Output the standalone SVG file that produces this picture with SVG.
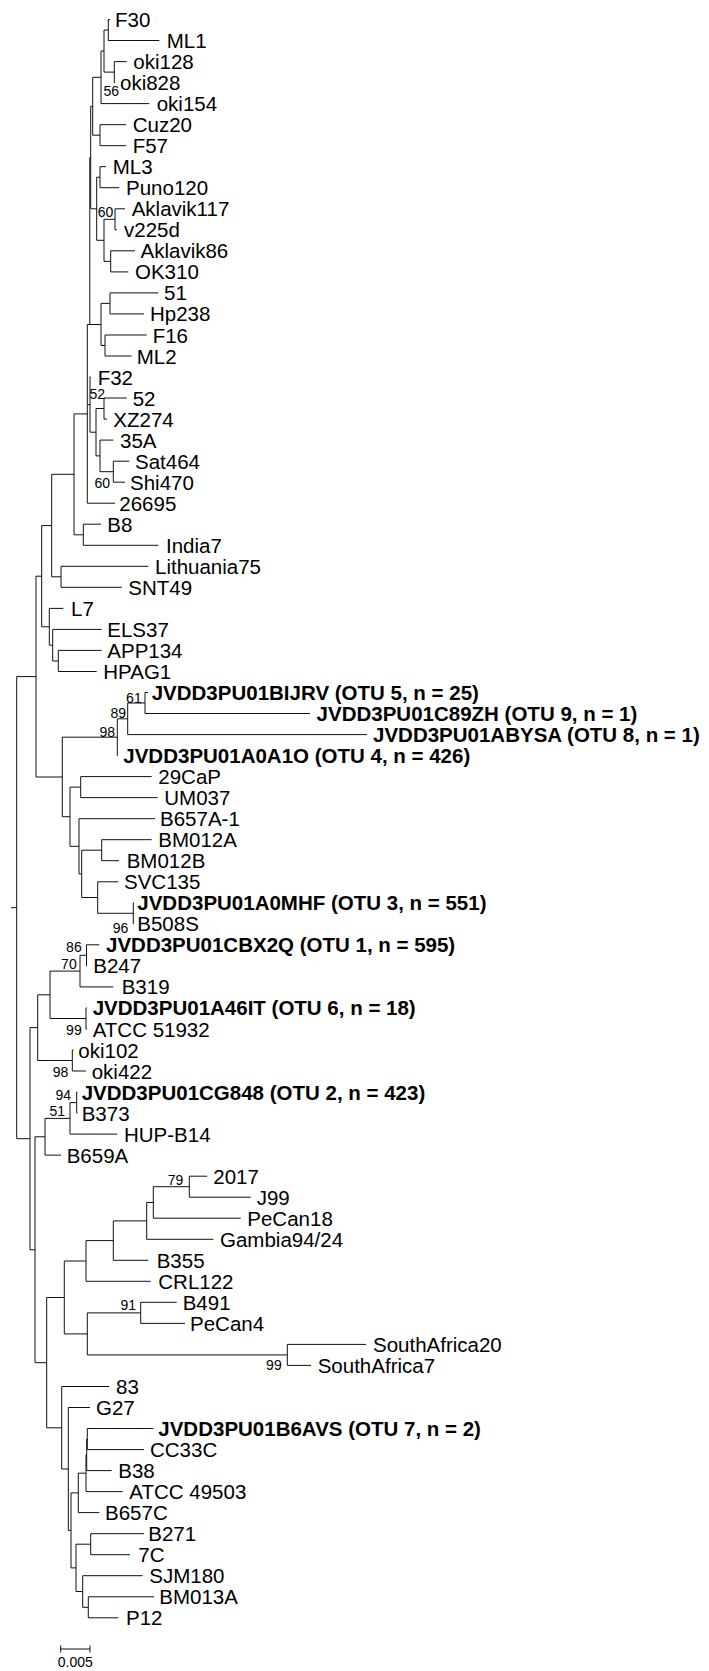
<svg xmlns="http://www.w3.org/2000/svg" width="709" height="1671" viewBox="0 0 709 1671">
<style>
text{font-family:"Liberation Sans",Arial,sans-serif;fill:#000}
.l{font-size:20.5px}
.b{font-size:20.5px;font-weight:bold}
.s{font-size:14px;text-anchor:end}
.br{fill:none;stroke:#111;stroke-width:1}
</style>
<rect width="709" height="1671" fill="#fff"/>
<g id="connectors" class="br">
<path d="M108.3 19.5V40.5M108.3 19.5H110M108.3 40.5H159.3"/>
<path d="M114.3 61.6V82.6M114.3 61.6H126.7M114.3 82.6H115"/>
<path d="M104 30V72.1M104 30H108.3M104 72.1H114.3"/>
<path d="M101 51V103.6M101 51H104M101 103.6H149.3"/>
<path d="M100 124.7V145.7M100 124.7H126M100 145.7H126"/>
<path d="M92.7 77.3V135.2M92.7 77.3H101M92.7 135.2H100"/>
<path d="M100 166.7V187.7M100 166.7H106M100 187.7H119.3"/>
<path d="M115 208.8V229.8M115 208.8H125M115 229.8H117"/>
<path d="M110.7 250.8V271.9M110.7 250.8H135M110.7 271.9H128.3"/>
<path d="M104 219.3V261.4M104 219.3H115M104 261.4H110.7"/>
<path d="M96.7 177.2V240.3M96.7 177.2H100M96.7 240.3H104"/>
<path d="M110 292.9V313.9M110 292.9H158.3M110 313.9H144"/>
<path d="M105 335V356M105 335H146.7M105 356H131.7"/>
<path d="M101 303.4V345.5M101 303.4H110M101 345.5H105"/>
<path d="M90.7 106.3V208.8M90.7 106.3H92.7M90.7 208.8H96.7"/>
<path d="M89.8 157.5V324.5M89.8 157.5H90.7"/>
<path d="M104 398V419.1M104 398H126.7M104 419.1H107"/>
<path d="M113.3 461.2V482.2M113.3 461.2H129.3M113.3 482.2H125"/>
<path d="M100 440.1V471.7M100 440.1H113.3M100 471.7H113.3"/>
<path d="M96 408.5V455.9M96 408.5H104M96 455.9H100"/>
<path d="M90 377V432.2M90 377H91M90 432.2H96"/>
<path d="M87.3 324.5V503.2M87.3 324.5H101M87.3 404.6H90M87.3 503.2H115"/>
<path d="M83.3 524.2V545.3M83.3 524.2H101M83.3 545.3H158.3"/>
<path d="M74 413.9V534.8M74 413.9H87.3M74 534.8H83.3"/>
<path d="M61 566.3V587.3M61 566.3H148.3M61 587.3H121.7"/>
<path d="M51.7 474.3V576.8M51.7 474.3H74M51.7 576.8H61"/>
<path d="M58.3 650.4V671.5M58.3 650.4H101.7M58.3 671.5H96.7"/>
<path d="M52.7 629.4V661M52.7 629.4H101.7M52.7 661H58.3"/>
<path d="M49.3 608.4V645.2M49.3 608.4H63.3M49.3 645.2H52.7"/>
<path d="M41.7 525.6V626.8M41.7 525.6H51.7M41.7 626.8H49.3"/>
<path d="M145 692.5V713.5M145 692.5H148M145 713.5H310"/>
<path d="M127.7 703V734.6M127.7 703H145M127.7 734.6H367"/>
<path d="M117.3 718.8V755.6M117.3 718.8H127.7M117.3 755.6H118"/>
<path d="M80.7 776.6V797.6M80.7 776.6H151.7M80.7 797.6H157.7"/>
<path d="M101.7 839.7V860.7M101.7 839.7H151.7M101.7 860.7H119"/>
<path d="M133.3 902.8V923.8M133.3 902.8H134M133.3 923.8H134"/>
<path d="M97.7 881.8V913.3M97.7 881.8H118.3M97.7 913.3H133.3"/>
<path d="M81.7 850.2V897.5M81.7 850.2H101.7M81.7 897.5H97.7"/>
<path d="M79 818.7V873.9M79 818.7H155M79 873.9H81.7"/>
<path d="M70 787.1V846.3M70 787.1H80.7M70 846.3H79"/>
<path d="M62.3 737.2V816.7M62.3 737.2H117.3M62.3 816.7H70"/>
<path d="M36 576.2V777M36 576.2H41.7M36 777H62.3"/>
<path d="M86.5 944.8V965.9M86.5 944.8H99.3M86.5 965.9H87"/>
<path d="M80 955.3V986.9M80 955.3H86.5M80 986.9H113.3"/>
<path d="M86 1007.9V1029M86 1007.9H87M86 1029H87"/>
<path d="M50 971.1V1018.5M50 971.1H80M50 1018.5H86"/>
<path d="M72.3 1050V1071M72.3 1050H73.5M72.3 1071H86"/>
<path d="M37.7 994.8V1060.5M37.7 994.8H50M37.7 1060.5H72.3"/>
<path d="M76.7 1092.1V1113.1M76.7 1092.1H77.5M76.7 1113.1H77.5"/>
<path d="M70 1102.6V1134.1M70 1102.6H76.7M70 1134.1H117.3"/>
<path d="M45 1118.4V1155.1M45 1118.4H70M45 1155.1H61"/>
<path d="M189.3 1176.2V1197.2M189.3 1176.2H207.3M189.3 1197.2H250.7"/>
<path d="M153.3 1186.7V1218.2M153.3 1186.7H189.3M153.3 1218.2H240.7"/>
<path d="M146.7 1202.5V1239.3M146.7 1202.5H153.3M146.7 1239.3H213.3"/>
<path d="M113.3 1220.9V1260.3M113.3 1220.9H146.7M113.3 1260.3H148.3"/>
<path d="M86 1240.6V1281.3M86 1240.6H113.3M86 1281.3H150.7"/>
<path d="M140.7 1302.3V1323.4M140.7 1302.3H176.7M140.7 1323.4H185"/>
<path d="M287.3 1344.4V1365.4M287.3 1344.4H366M287.3 1365.4H311"/>
<path d="M87.3 1312.9V1354.9M87.3 1312.9H140.7M87.3 1354.9H287.3"/>
<path d="M64.3 1261V1333.9M64.3 1261H86M64.3 1333.9H87.3"/>
<path d="M87.3 1428.5V1449.6M87.3 1428.5H153.3M87.3 1449.6H144"/>
<path d="M86.7 1439V1470.6M86.7 1439H87.3M86.7 1470.6H111.7"/>
<path d="M86 1454.8V1491.6M86 1454.8H86.7M86 1491.6H122.7"/>
<path d="M78.3 1473.2V1512.6M78.3 1473.2H86M78.3 1512.6H99.3"/>
<path d="M90.7 1533.7V1554.7M90.7 1533.7H144M90.7 1554.7H130"/>
<path d="M88.3 1596.8V1617.8M88.3 1596.8H154M88.3 1617.8H118.3"/>
<path d="M82.7 1575.7V1607.3M82.7 1575.7H142.7M82.7 1607.3H88.3"/>
<path d="M76 1544.2V1591.5M76 1544.2H90.7M76 1591.5H82.7"/>
<path d="M71 1492.9V1567.9M71 1492.9H78.3M71 1567.9H76"/>
<path d="M68.3 1407.5V1530.4M68.3 1407.5H90M68.3 1530.4H71"/>
<path d="M61.7 1386.5V1469M61.7 1386.5H109.3M61.7 1469H68.3"/>
<path d="M46.7 1297.5V1427.8M46.7 1297.5H64.3M46.7 1427.8H61.7"/>
<path d="M35 1136.8V1362.7M35 1136.8H45M35 1362.7H46.7"/>
<path d="M30 1027.6V1249.8M30 1027.6H37.7M30 1249.8H35"/>
<path d="M16.7 676.6V1138.7M16.7 676.6H36M16.7 1138.7H30"/>
<path d="M11 907.7H16.7"/>
</g>
<g id="leaves">
<g id="n1"><text class="l" x="115" y="27">F30</text></g>
<g id="n2"><text class="l" x="166.7" y="48">ML1</text></g>
<g id="n3"><text class="l" x="133.3" y="69.1">oki128</text></g>
<g id="n4"><text class="l" x="120" y="90.1">oki828</text></g>
<g id="n5"><text class="l" x="156.7" y="111.1">oki154</text></g>
<g id="n6"><text class="l" x="132.7" y="132.2">Cuz20</text></g>
<g id="n7"><text class="l" x="132.7" y="153.2">F57</text></g>
<g id="n8"><text class="l" x="112.7" y="174.2">ML3</text></g>
<g id="n9"><text class="l" x="126" y="195.2">Puno120</text></g>
<g id="n10"><text class="l" x="131.7" y="216.3">Aklavik117</text></g>
<g id="n11"><text class="l" x="124" y="237.3">v225d</text></g>
<g id="n12"><text class="l" x="140.5" y="258.3">Aklavik86</text></g>
<g id="n13"><text class="l" x="135" y="279.4">OK310</text></g>
<g id="n14"><text class="l" x="164" y="300.4">51</text></g>
<g id="n15"><text class="l" x="150" y="321.4">Hp238</text></g>
<g id="n16"><text class="l" x="152.7" y="342.5">F16</text></g>
<g id="n17"><text class="l" x="136.7" y="363.5">ML2</text></g>
<g id="n18"><text class="l" x="97.7" y="384.5">F32</text></g>
<g id="n19"><text class="l" x="132.7" y="405.5">52</text></g>
<g id="n20"><text class="l" x="113.3" y="426.6">XZ274</text></g>
<g id="n21"><text class="l" x="120" y="447.6">35A</text></g>
<g id="n22"><text class="l" x="135" y="468.7">Sat464</text></g>
<g id="n23"><text class="l" x="130" y="489.7">Shi470</text></g>
<g id="n24"><text class="l" x="119.3" y="510.7">26695</text></g>
<g id="n25"><text class="l" x="107.3" y="531.7">B8</text></g>
<g id="n26"><text class="l" x="166" y="552.8">India7</text></g>
<g id="n27"><text class="l" x="155" y="573.8">Lithuania75</text></g>
<g id="n28"><text class="l" x="128.3" y="594.8">SNT49</text></g>
<g id="n29"><text class="l" x="71" y="615.9">L7</text></g>
<g id="n30"><text class="l" x="107.3" y="636.9">ELS37</text></g>
<g id="n31"><text class="l" x="107.3" y="657.9">APP134</text></g>
<g id="n32"><text class="l" x="103.3" y="679">HPAG1</text></g>
<g id="n33"><text class="b" x="151.7" y="700">JVDD3PU01BIJRV (OTU 5, n = 25)</text></g>
<g id="n34"><text class="b" x="316.6" y="721">JVDD3PU01C89ZH (OTU 9, n = 1)</text></g>
<g id="n35"><text class="b" x="373" y="742.1">JVDD3PU01ABYSA (OTU 8, n = 1)</text></g>
<g id="n36"><text class="b" x="123.3" y="763.1">JVDD3PU01A0A1O (OTU 4, n = 426)</text></g>
<g id="n37"><text class="l" x="158.3" y="784.1">29CaP</text></g>
<g id="n38"><text class="l" x="164.3" y="805.1">UM037</text></g>
<g id="n39"><text class="l" x="160" y="826.2">B657A-1</text></g>
<g id="n40"><text class="l" x="158.3" y="847.2">BM012A</text></g>
<g id="n41"><text class="l" x="126.7" y="868.2">BM012B</text></g>
<g id="n42"><text class="l" x="124" y="889.3">SVC135</text></g>
<g id="n43"><text class="b" x="137.3" y="910.3">JVDD3PU01A0MHF (OTU 3, n = 551)</text></g>
<g id="n44"><text class="l" x="137.3" y="931.3">B508S</text></g>
<g id="n45"><text class="b" x="106" y="952.3">JVDD3PU01CBX2Q (OTU 1, n = 595)</text></g>
<g id="n46"><text class="l" x="93.3" y="973.4">B247</text></g>
<g id="n47"><text class="l" x="121.7" y="994.4">B319</text></g>
<g id="n48"><text class="b" x="92.7" y="1015.4">JVDD3PU01A46IT (OTU 6, n = 18)</text></g>
<g id="n49"><text class="l" x="92.7" y="1036.5">ATCC 51932</text></g>
<g id="n50"><text class="l" x="78.3" y="1057.5">oki102</text></g>
<g id="n51"><text class="l" x="91.7" y="1078.5">oki422</text></g>
<g id="n52"><text class="b" x="81.7" y="1099.6">JVDD3PU01CG848 (OTU 2, n = 423)</text></g>
<g id="n53"><text class="l" x="81.7" y="1120.6">B373</text></g>
<g id="n54"><text class="l" x="124" y="1141.6">HUP-B14</text></g>
<g id="n55"><text class="l" x="66.7" y="1162.6">B659A</text></g>
<g id="n56"><text class="l" x="213.3" y="1183.7">2017</text></g>
<g id="n57"><text class="l" x="256.7" y="1204.7">J99</text></g>
<g id="n58"><text class="l" x="247.3" y="1225.7">PeCan18</text></g>
<g id="n59"><text class="l" x="220" y="1246.8">Gambia94/24</text></g>
<g id="n60"><text class="l" x="156.7" y="1267.8">B355</text></g>
<g id="n61"><text class="l" x="158.3" y="1288.8">CRL122</text></g>
<g id="n62"><text class="l" x="182.7" y="1309.8">B491</text></g>
<g id="n63"><text class="l" x="190" y="1330.9">PeCan4</text></g>
<g id="n64"><text class="l" x="373" y="1351.9">SouthAfrica20</text></g>
<g id="n65"><text class="l" x="317.7" y="1372.9">SouthAfrica7</text></g>
<g id="n66"><text class="l" x="116" y="1394">83</text></g>
<g id="n67"><text class="l" x="96" y="1415">G27</text></g>
<g id="n68"><text class="b" x="158.3" y="1436">JVDD3PU01B6AVS (OTU 7, n = 2)</text></g>
<g id="n69"><text class="l" x="150" y="1457.1">CC33C</text></g>
<g id="n70"><text class="l" x="118.3" y="1478.1">B38</text></g>
<g id="n71"><text class="l" x="129.3" y="1499.1">ATCC 49503</text></g>
<g id="n72"><text class="l" x="105" y="1520.1">B657C</text></g>
<g id="n73"><text class="l" x="148.3" y="1541.2">B271</text></g>
<g id="n74"><text class="l" x="138.3" y="1562.2">7C</text></g>
<g id="n75"><text class="l" x="149.3" y="1583.2">SJM180</text></g>
<g id="n76"><text class="l" x="159.3" y="1604.3">BM013A</text></g>
<g id="n77"><text class="l" x="126" y="1625.3">P12</text></g>
</g>
<g id="bootstrap">
<text class="s" x="119" y="95.5">56</text>
<text class="s" x="113.3" y="217">60</text>
<text class="s" x="105" y="399">52</text>
<text class="s" x="110" y="488">60</text>
<text class="s" x="141.7" y="703">61</text>
<text class="s" x="126" y="718">89</text>
<text class="s" x="115" y="737">98</text>
<text class="s" x="128.3" y="932.5">96</text>
<text class="s" x="81.7" y="952">86</text>
<text class="s" x="76.7" y="968.5">70</text>
<text class="s" x="81.7" y="1035">99</text>
<text class="s" x="68.3" y="1077">98</text>
<text class="s" x="71" y="1100">94</text>
<text class="s" x="65" y="1116">51</text>
<text class="s" x="183.3" y="1184.5">79</text>
<text class="s" x="136" y="1310">91</text>
<text class="s" x="281.7" y="1370">99</text>
</g>
<g id="scalebar">
<path class="br" d="M60.7 1649H90M60.7 1645.5V1652.5M90 1645.5V1652.5"/>
<text x="75.3" y="1667" style="font-size:14px;text-anchor:middle">0.005</text>
</g>
</svg>
